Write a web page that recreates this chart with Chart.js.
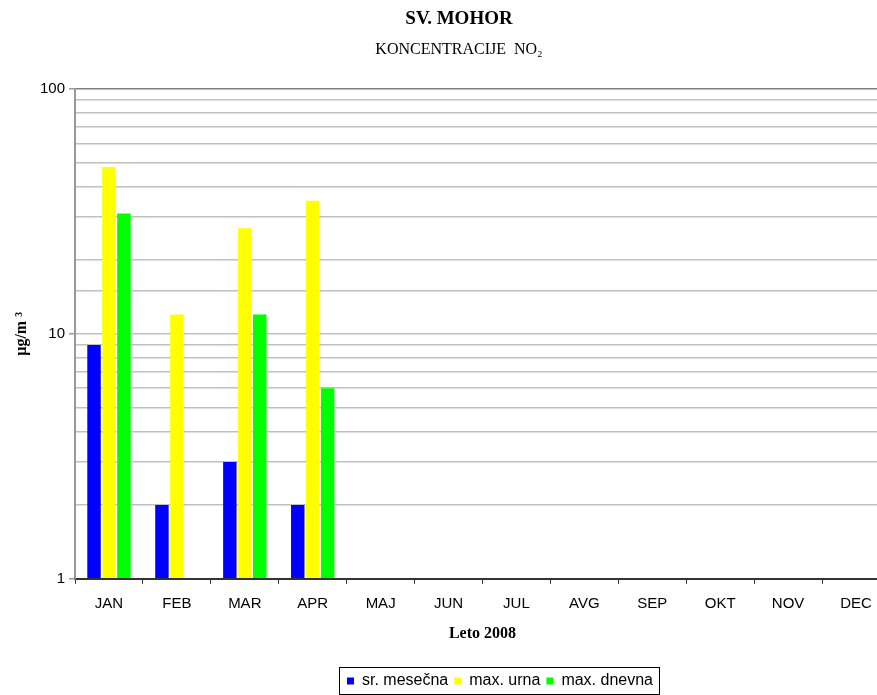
<!DOCTYPE html>
<html>
<head>
<meta charset="utf-8">
<script src="https://cdn.jsdelivr.net/npm/chart.js@4.4.1/dist/chart.umd.min.js"></script>
<style>
  html, body { margin: 0; padding: 0; background: #fff; overflow: hidden; }
  #wrap { width: 890px; height: 695px; }
</style>
</head>
<body>
<div id="wrap"><canvas id="no2Chart"></canvas></div>
<script>
// Months (categories)
const months = ['JAN', 'FEB', 'MAR', 'APR', 'MAJ', 'JUN', 'JUL', 'AVG', 'SEP', 'OKT', 'NOV', 'DEC'];

// Series values in µg/m3 (log scale)
const srMesecna = [9, 2, 3, 2, null, null, null, null, null, null, null, null];
const maxUrna = [48, 12, 27, 35, null, null, null, null, null, null, null, null];
const maxDnevna = [31, null, 12, 6, null, null, null, null, null, null, null, null];

// Labelled y ticks
const yTickLabels = [1, 10, 100];

// Excel centres title and legend a bit right of the canvas centre
const shiftBoxes = {
    id: 'shiftBoxes',
    afterLayout(chart) {
        chart.boxes.forEach(box => {
            if (box === chart.legend) {
                box.left += 55; box.right += 55;
                box.top += 4; box.bottom += 4;
            } else if (box.options && typeof box.options.text === 'string' && box.options.display) {
                box.left += 14; box.right += 14;
            }
        });
    }
};

// Box drawn around the legend
const legendFrame = {
    id: 'legendFrame',
    afterDraw(chart) {
        const boxes = chart.legend && chart.legend.legendHitBoxes;
        if (!boxes || !boxes.length) return;
        const left = Math.min(...boxes.map(b => b.left)) - 8;
        const right = Math.max(...boxes.map(b => b.left + b.width)) + 6;
        const top = Math.min(...boxes.map(b => b.top)) - 6;
        const bottom = Math.max(...boxes.map(b => b.top + b.height)) + 5;
        const ctx = chart.ctx;
        ctx.save();
        ctx.strokeStyle = '#000';
        ctx.lineWidth = 1;
        ctx.strokeRect(Math.round(left) + 0.5, Math.round(top) + 0.5, Math.round(right - left), Math.round(bottom - top));
        ctx.restore();
    }
};

function initChart() {
    const canvas = document.getElementById('no2Chart');
    new Chart(canvas, {
        type: 'bar',
        data: {
            labels: months,
            datasets: [
                { label: 'sr. mesečna', data: srMesecna, backgroundColor: '#0000ff' },
                { label: 'max. urna', data: maxUrna, backgroundColor: '#ffff00' },
                { label: 'max. dnevna', data: maxDnevna, backgroundColor: '#00ff00' }
            ]
        },
        options: {
            responsive: true,
            maintainAspectRatio: false,
            animation: false,
            datasets: {
                bar: { categoryPercentage: 0.66, barPercentage: 0.9, base: 1 }
            },
            layout: { padding: { top: 8, right: 0, bottom: 0, left: 0 } },
            plugins: {
                tooltip: { enabled: false },
                title: {
                    display: true,
                    text: 'SV. MOHOR',
                    color: '#000',
                    font: { family: 'Liberation Serif', size: 19, weight: 'bold' },
                    padding: { top: 0, bottom: 9 }
                },
                subtitle: {
                    display: true,
                    text: 'KONCENTRACIJE  NO₂',
                    color: '#000',
                    font: { family: 'Liberation Serif', size: 16 },
                    padding: { top: 0, bottom: 30 }
                },
                legend: {
                    position: 'bottom',
                    labels: {
                        color: '#000',
                        boxWidth: 7,
                        boxHeight: 7,
                        padding: 6,
                        font: { family: 'Liberation Sans', size: 16 }
                    }
                }
            },
            scales: {
                x: {
                    offset: true,
                    grid: {
                        offset: true,
                        drawOnChartArea: false,
                        drawTicks: true,
                        tickLength: 5,
                        color: '#333'
                    },
                    border: { color: '#333', width: 2 },
                    ticks: {
                        color: '#000',
                        padding: 11,
                        maxRotation: 0,
                        font: { family: 'Liberation Sans', size: 15 }
                    },
                    title: {
                        display: true,
                        text: 'Leto 2008',
                        color: '#000',
                        font: { family: 'Liberation Serif', size: 16, weight: 'bold' },
                        padding: { top: 0, bottom: 20 }
                    }
                },
                y: {
                    type: 'logarithmic',
                    min: 1,
                    max: 100,
                    afterFit(scale) { scale.width = 75; },
                    grid: {
                        color: ctx => (ctx.tick && ctx.tick.value === 100) ? '#808080' : '#c0c0c0',
                        lineWidth: 1.5,
                        tickLength: 6,
                        tickColor: ctx => yTickLabels.includes(ctx.tick && ctx.tick.value) ? '#999' : 'rgba(0,0,0,0)'
                    },
                    border: { color: '#999', width: 2 },
                    ticks: {
                        autoSkip: false,
                        color: '#000',
                        padding: 4,
                        font: { family: 'Liberation Sans', size: 15 },
                        callback: value => yTickLabels.includes(value) ? String(value) : ''
                    },
                    title: {
                        display: true,
                        text: 'µg/m ³',
                        color: '#000',
                        font: { family: 'Liberation Serif', size: 16, weight: 'bold' },
                        padding: { top: 12, bottom: 0 }
                    }
                }
            }
        },
        plugins: [shiftBoxes, legendFrame]
    });
}

document.addEventListener('DOMContentLoaded', initChart);
</script>
</body>
</html>
